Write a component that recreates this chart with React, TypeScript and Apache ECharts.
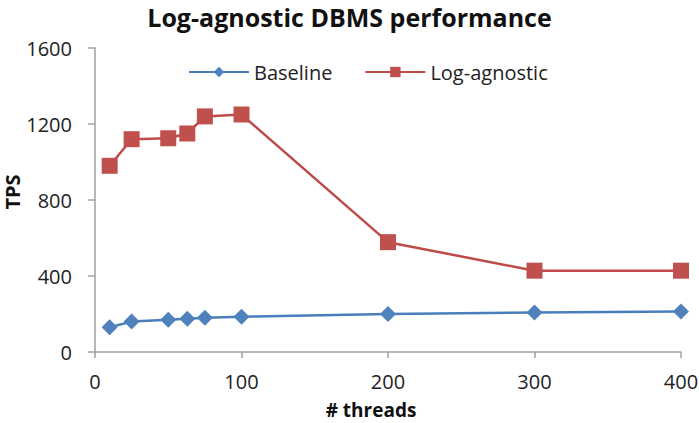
import React, { useEffect, useRef } from "react";
import * as echarts from "echarts";

// Thread counts used in the benchmark runs
const threads = [10, 25, 50, 63, 75, 100, 200, 300, 400];
// Transactions per second for each configuration
const baselineTps = [130, 160, 170, 175, 180, 185, 200, 208, 213];
const logAgnosticTps = [980, 1120, 1125, 1150, 1240, 1250, 578, 428, 428];

const xTicks = { min: 0, max: 400, interval: 100 };
const yTicks = { min: 0, max: 1600, interval: 400 };

const FONT = "'Open Sans', 'Liberation Sans', sans-serif";
const AXIS_GRAY = "#A0A0A0";

export default function App() {
  const ref = useRef<HTMLDivElement>(null);

  useEffect(() => {
    if (!ref.current) return;
    const chart = echarts.init(ref.current, undefined, { renderer: "svg" });

    const pairs = (ys: number[]) => threads.map((t, i) => [t, ys[i]]);
    const plain = (v: number) => String(v);

    chart.setOption({
      animation: false,
      backgroundColor: "#ffffff",
      textStyle: { fontFamily: FONT },
      title: {
        text: "Log-agnostic DBMS performance",
        left: "center",
        top: 3,
        padding: [0, 0, 0, 5],
        textStyle: {
          fontFamily: FONT,
          fontWeight: "bold",
          fontSize: 25,
          lineHeight: 28,
          color: "#111111",
        },
      },
      legend: {
        left: 188,
        top: 62,
        padding: 0,
        itemWidth: 60,
        itemHeight: 13,
        itemGap: 32,
        textStyle: { fontFamily: FONT, fontSize: 20, color: "#222222" },
        data: ["Baseline", "Log-agnostic"],
      },
      grid: {
        left: 95,
        right: 18,
        top: 48,
        bottom: 71,
        containLabel: false,
        outerBoundsMode: "none",
      },
      // axis titles
      graphic: [
        {
          type: "text",
          x: 371,
          y: 410,
          style: {
            text: "# threads",
            font: `bold 19px ${FONT}`,
            fill: "#111111",
            align: "center",
            verticalAlign: "middle",
          },
        },
        {
          type: "text",
          x: 12,
          y: 192,
          rotation: Math.PI / 2,
          style: {
            text: "TPS",
            font: `bold 20px ${FONT}`,
            fill: "#111111",
            align: "center",
            verticalAlign: "middle",
          },
        },
      ],
      xAxis: {
        type: "value",
        ...xTicks,
        axisLine: { lineStyle: { color: AXIS_GRAY, width: 1.5 } },
        axisTick: { show: true, length: 6, lineStyle: { color: AXIS_GRAY, width: 1.5 } },
        axisLabel: {
          margin: 19,
          fontFamily: FONT,
          fontSize: 20,
          color: "#222222",
          formatter: plain,
        },
        splitLine: { show: false },
      },
      yAxis: {
        type: "value",
        ...yTicks,
        axisLine: { show: true, lineStyle: { color: AXIS_GRAY, width: 1.5 } },
        axisTick: { show: true, length: 7, lineStyle: { color: AXIS_GRAY, width: 1.5 } },
        axisLabel: {
          margin: 23,
          fontFamily: FONT,
          fontSize: 20,
          color: "#222222",
          formatter: plain,
        },
        splitLine: { show: false },
      },
      series: [
        {
          name: "Baseline",
          type: "line",
          data: pairs(baselineTps),
          symbol: "diamond",
          symbolSize: 16,
          lineStyle: { color: "#4A7EBB", width: 2.5 },
          itemStyle: { color: "#4F81BD" },
        },
        {
          name: "Log-agnostic",
          type: "line",
          data: pairs(logAgnosticTps),
          symbol: "rect",
          symbolSize: 16,
          lineStyle: { color: "#BE4B48", width: 2.5 },
          itemStyle: { color: "#C0504D" },
        },
      ],
    });

    return () => chart.dispose();
  }, []);

  return (
    <div
      ref={ref}
      style={{ position: "fixed", left: 0, top: 0, width: 699, height: 423 }}
    />
  );
}
